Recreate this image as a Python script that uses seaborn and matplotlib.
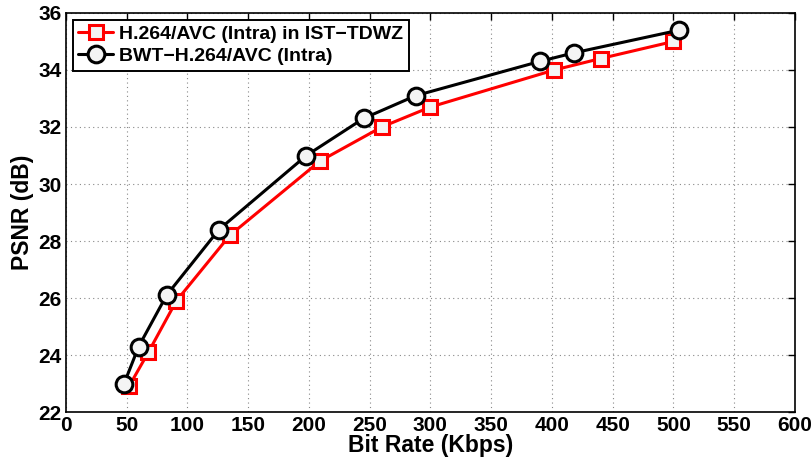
import matplotlib
matplotlib.use("Agg")
import matplotlib.pyplot as plt
import seaborn as sns
import pandas as pd

red_x = [52, 68, 91, 135, 209, 260, 300, 402, 440, 500]
red_y = [22.9, 24.1, 25.9, 28.2, 30.8, 32.0, 32.7, 34.0, 34.4, 35.0]
black_x = [48, 60, 83, 126, 198, 245, 288, 390, 418, 505]
black_y = [23.0, 24.3, 26.1, 28.4, 31.0, 32.3, 33.1, 34.3, 34.6, 35.4]
red_label = "H.264/AVC (Intra) in IST\u2212TDWZ"
black_label = "BWT\u2212H.264/AVC (Intra)"
x_ticks = list(range(0, 601, 50))
y_ticks = list(range(22, 37, 2))

sns.set_style("white")
plt.rcParams['font.family'] = ['Liberation Sans', 'DejaVu Sans']
plt.rcParams['font.weight'] = 'bold'
plt.rcParams['text.color'] = 'black'
plt.rcParams['axes.labelcolor'] = 'black'
plt.rcParams['xtick.color'] = 'black'
plt.rcParams['ytick.color'] = 'black'

fig = plt.figure(figsize=(8.12, 4.63), dpi=100)
ax = fig.add_axes([0.081, 0.110, 0.898, 0.862])

df_red = pd.DataFrame({"x": red_x, "y": red_y})
df_black = pd.DataFrame({"x": black_x, "y": black_y})

sns.lineplot(data=df_red, x="x", y="y", ax=ax, color="red", lw=2.2,
             marker="s", markersize=10, markerfacecolor="#f4f4f4",
             markeredgecolor="red", markeredgewidth=2.2, label=red_label,
             sort=False, zorder=3)
sns.lineplot(data=df_black, x="x", y="y", ax=ax, color="black", lw=2.2,
             marker="o", markersize=12, markerfacecolor="#f4f4f4",
             markeredgecolor="black", markeredgewidth=2.2, label=black_label,
             sort=False, zorder=4)

ax.set_xlim(0, 600)
ax.set_ylim(22, 36)
ax.set_xticks(x_ticks)
ax.set_yticks(y_ticks)
ax.grid(True, linestyle=(0, (1, 3)), color="#888888", lw=0.8)
ax.tick_params(direction="in", length=5, width=1, top=True, right=True,
               labelsize=15, pad=3, colors="black")
for lbl in ax.get_xticklabels() + ax.get_yticklabels():
    lbl.set_fontweight("bold")
for s in ax.spines.values():
    s.set_linewidth(1.2)
    s.set_color("black")

ax.set_xlabel("Bit Rate (Kbps)", fontsize=16.5, fontweight="bold", labelpad=-1,
              color="black")
ax.set_ylabel("PSNR (dB)", fontsize=16.5, fontweight="bold", labelpad=3,
              color="black")

leg = ax.legend(loc="upper left", frameon=True, fancybox=False, framealpha=1,
                edgecolor="black", borderpad=0.3, handlelength=1.8,
                handletextpad=0.3, labelspacing=0.2,
                borderaxespad=0.35, prop={"weight": "bold", "size": 14})
leg.get_frame().set_linewidth(1.4)
leg.get_frame().set_edgecolor("black")
for t in leg.get_texts():
    t.set_color("black")

fig.savefig("out.png", dpi=100)
